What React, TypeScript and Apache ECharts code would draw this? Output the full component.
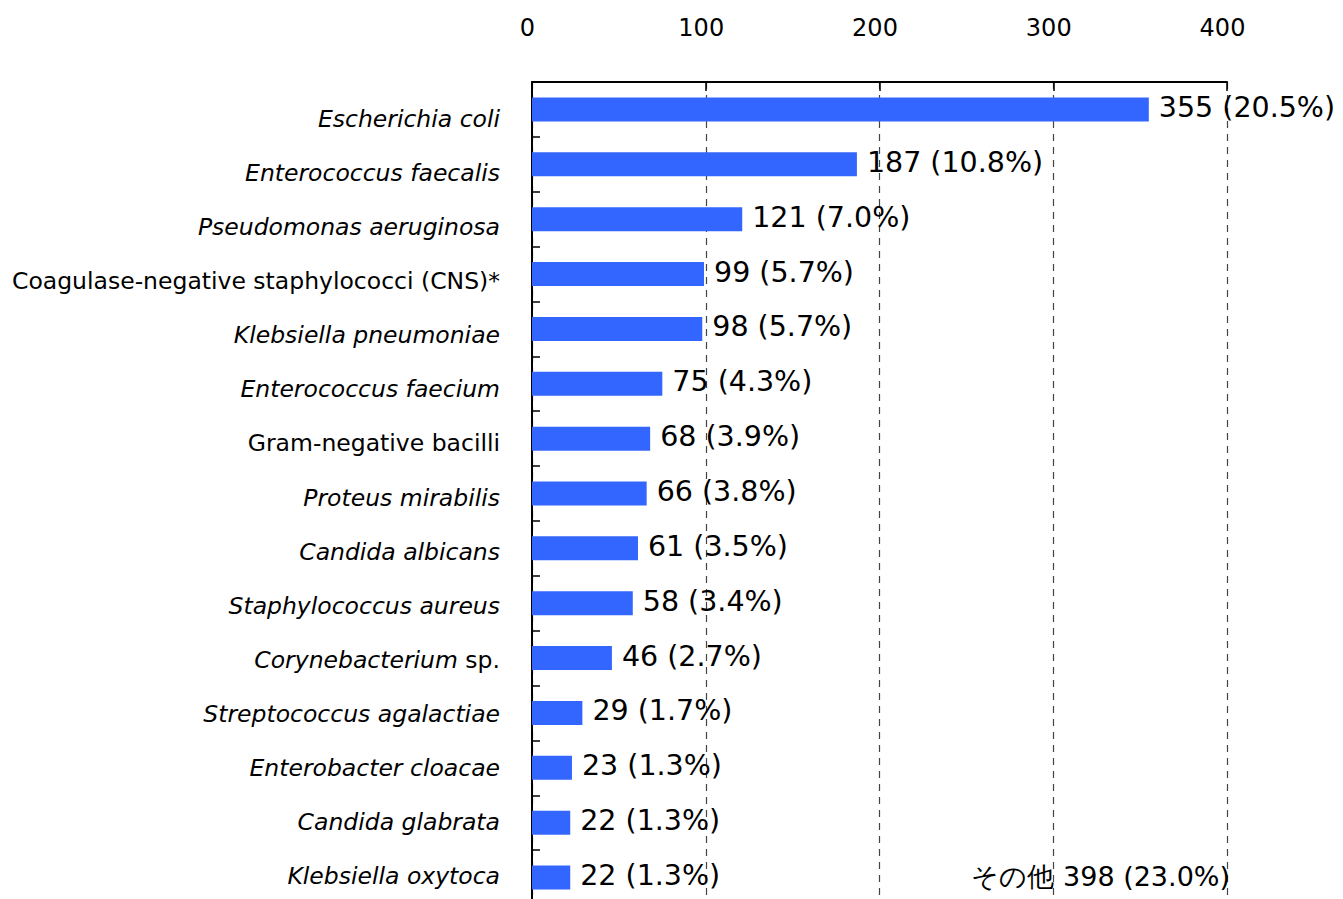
import React, { useEffect, useRef } from "react";
import * as echarts from "echarts";

const italicParts = [
  "Escherichia coli",
  "Enterococcus faecalis",
  "Pseudomonas aeruginosa",
  "",
  "Klebsiella pneumoniae",
  "Enterococcus faecium",
  "",
  "Proteus mirabilis",
  "Candida albicans",
  "Staphylococcus aureus",
  "Corynebacterium",
  "Streptococcus agalactiae",
  "Enterobacter cloacae",
  "Candida glabrata",
  "Klebsiella oxytoca",
];
const romanParts = [
  "",
  "",
  "",
  "Coagulase-negative staphylococci (CNS)*",
  "",
  "",
  "Gram-negative bacilli",
  "",
  "",
  "",
  " sp.",
  "",
  "",
  "",
  "",
];
const categories = italicParts.map((s, i) => s + romanParts[i]);
const counts = [355, 187, 121, 99, 98, 75, 68, 66, 61, 58, 46, 29, 23, 22, 22];
const percents = [20.5, 10.8, 7.0, 5.7, 5.7, 4.3, 3.9, 3.8, 3.5, 3.4, 2.7, 1.7, 1.3, 1.3, 1.3];
const otherLabel = "その他";
const otherCount = 398;
const otherPercent = 23.0;
const xTicks = [0, 100, 200, 300, 400];

const FONT = "'DejaVu Sans', Verdana, sans-serif";

export default function App() {
  const ref = useRef<HTMLDivElement>(null);
  useEffect(() => {
    if (!ref.current) return;
    const chart = echarts.init(ref.current, null, { renderer: "svg" });
    const option: any = {
      animation: false,
      backgroundColor: "#fff",
      grid: [
        { left: 532, top: 82, width: 695, height: 823, containLabel: false },
        { left: 532, top: 92, width: 695, height: 811, containLabel: false },
      ],
      xAxis: [
        {
          gridIndex: 0,
          type: "value",
          position: "top",
          min: xTicks[0],
          max: xTicks[xTicks.length - 1],
          interval: 100,
          axisLine: { show: true, onZero: false, lineStyle: { color: "#000", width: 2 } },
          axisTick: { show: true, inside: true, length: 9, lineStyle: { color: "#000", width: 1.5 } },
          axisLabel: {
            show: true,
            margin: 42,
            fontSize: 24,
            color: "#000",
            fontFamily: FONT,
            padding: [0, 9, 0, 0],
          },
          splitLine: { show: true, lineStyle: { color: "#444", type: [7, 6], width: 1.2 } },
        },
        {
          gridIndex: 1,
          type: "value",
          min: 0,
          max: 400,
          show: false,
        },
      ],
      yAxis: [
        {
          gridIndex: 0,
          type: "category",
          inverse: true,
          data: categories,
          axisLine: { show: true, onZero: false, lineStyle: { color: "#000", width: 2 } },
          axisTick: { show: true, inside: true, length: 8, lineStyle: { color: "#000", width: 1.5 } },
          axisLabel: { show: false },
          splitLine: { show: false },
        },
        {
          gridIndex: 1,
          type: "category",
          inverse: true,
          data: categories,
          axisLine: { show: false },
          axisTick: { show: false },
          splitLine: { show: false },
          axisLabel: {
            show: true,
            margin: 32,
            fontSize: 23.5,
            color: "#000",
            fontFamily: FONT,
            formatter: (_v: string, idx: number) => {
              const it = italicParts[idx];
              const ro = romanParts[idx];
              let s = "";
              if (it) s += "{i|" + it + "}";
              if (ro) s += "{n|" + ro + "}";
              return s;
            },
            rich: {
              i: { fontStyle: "italic", fontSize: 23.5, fontFamily: FONT, color: "#000" },
              n: { fontStyle: "normal", fontSize: 23.5, fontFamily: FONT, color: "#000" },
            },
          },
        },
      ],
      series: [
        {
          type: "bar",
          xAxisIndex: 0,
          yAxisIndex: 0,
          data: counts,
          barWidth: 24,
          itemStyle: { color: "#3366ff" },
          label: {
            show: true,
            position: "right",
            distance: 10,
            offset: [0, -2],
            fontSize: 28.5,
            color: "#000",
            fontFamily: FONT,
            formatter: (p: any) => `${counts[p.dataIndex]} (${percents[p.dataIndex].toFixed(1)}%)`,
          },
        },
        {
          type: "scatter",
          xAxisIndex: 0,
          yAxisIndex: 0,
          symbolSize: 0,
          silent: true,
          itemStyle: { opacity: 1 },
          data: [[400, categories[categories.length - 1]]],
          label: {
            show: true,
            position: "left",
            distance: 0,
            offset: [3, -1],
            fontSize: 27,
            color: "#000",
            opacity: 1,
            fontFamily: FONT,
            formatter: () => `${otherLabel} ${otherCount} (${otherPercent.toFixed(1)}%)`,
          },
        },
      ],
    };
    chart.setOption(option);
    return () => chart.dispose();
  }, []);
  return (
    <div
      style={{
        position: "absolute",
        left: 0,
        top: 0,
        width: 1343,
        height: 899,
        overflow: "hidden",
        background: "#fff",
      }}
    >
      <div ref={ref} style={{ width: 1343, height: 930 }} />
    </div>
  );
}
